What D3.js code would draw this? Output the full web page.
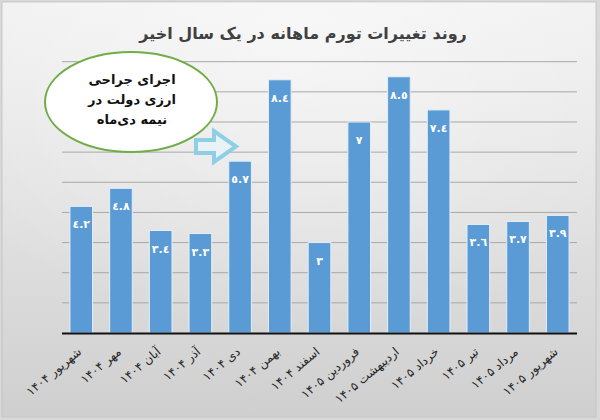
<!DOCTYPE html>
<html><head><meta charset="utf-8">
<script src="https://cdn.jsdelivr.net/npm/d3@7"></script>
<style>html,body{margin:0;padding:0;background:#fff;}svg{display:block;}</style>
</head><body>
<svg id="chart" width="600" height="420"></svg>
<script>
const categories = ["شهریور ۱۴۰۴","مهر ۱۴۰۴","آبان ۱۴۰۴","آذر ۱۴۰۴","دی ۱۴۰۴","بهمن ۱۴۰۴","اسفند ۱۴۰۴","فروردین ۱۴۰۵","اردیبهشت ۱۴۰۵","خرداد ۱۴۰۵","تیر ۱۴۰۵","مرداد ۱۴۰۵","شهریور ۱۴۰۵"];
const values = [4.2, 4.8, 3.4, 3.3, 5.7, 8.4, 3, 7, 8.5, 7.4, 3.6, 3.7, 3.9];
const gridTicks = [1,2,3,4,5,6,7,8,9];
const title = "روند تغییرات تورم ماهانه در یک سال اخیر";
const noteLines = ["اجرای جراحی","ارزی دولت در","نیمه دی‌ماه"];

const svg = d3.select("#chart");
const defs = svg.append("defs");
const g = defs.append("linearGradient").attr("id","bg").attr("x1",0).attr("y1",0).attr("x2",0).attr("y2",1);
g.append("stop").attr("offset","0%").attr("stop-color","#f1f1f1");
g.append("stop").attr("offset","55%").attr("stop-color","#e0e0e0");
g.append("stop").attr("offset","100%").attr("stop-color","#cfcfcf");
const rg = defs.append("radialGradient").attr("id","hl").attr("cx","0.5").attr("cy","0.1").attr("r","0.7");
rg.append("stop").attr("offset","0%").attr("stop-color","#ffffff").attr("stop-opacity",0.5);
rg.append("stop").attr("offset","100%").attr("stop-color","#ffffff").attr("stop-opacity",0);

svg.append("rect").attr("x",0).attr("y",0).attr("width",600).attr("height",420).attr("fill","#d9d9d9");
svg.append("rect").attr("x",2).attr("y",2).attr("width",594).attr("height",415).attr("fill","url(#bg)").attr("stroke","#c4c4c4").attr("stroke-width",1);
svg.append("rect").attr("x",2).attr("y",2).attr("width",594).attr("height",415).attr("fill","url(#hl)");

const x = d3.scaleBand().domain(categories).range([62, 577]).paddingInner(0.43).paddingOuter(0.2);
const y = d3.scaleLinear().domain([0, 9]).range([333, 61.7]);

// gridlines
svg.append("g").selectAll("line").data(gridTicks).join("line")
  .attr("x1",62).attr("x2",577)
  .attr("y1",d=>y(d)).attr("y2",d=>y(d))
  .attr("stroke","#a8a8a8").attr("stroke-width",1);

// bars
svg.append("g").selectAll("rect").data(values).join("rect")
  .attr("x",(d,i)=>x(categories[i]))
  .attr("y",d=>y(d))
  .attr("width",x.bandwidth())
  .attr("height",d=>y(0)-y(d))
  .attr("fill","#5b9bd5")
  .attr("stroke","#e4eef8").attr("stroke-width",1);

// baseline
svg.append("line").attr("x1",62).attr("x2",577).attr("y1",y(0)+0.5).attr("y2",y(0)+0.5)
  .attr("stroke","#111").attr("stroke-width",2);

// value labels (Arabic-Indic digits)
const arab = s => s.replace(/[0-9]/g, c => "٠١٢٣٤٥٦٧٨٩"[+c]);
svg.append("g").selectAll("text").data(values).join("text")
  .attr("x",(d,i)=>x(categories[i])+x.bandwidth()/2)
  .attr("y",d=>y(d)+22)
  .attr("text-anchor","middle")
  .attr("font-family","DejaVu Sans, sans-serif")
  .attr("font-weight","bold").attr("font-size",11).attr("fill","#ffffff")
  .text(d=>arab(String(d)));

// x-axis labels
svg.append("g").selectAll("text").data(categories).join("text")
  .attr("transform",d=>`translate(${x(d)+x.bandwidth()/2+1},${353}) rotate(-40)`)
  .attr("text-anchor","end")
  .attr("font-family","DejaVu Sans, sans-serif")
  .attr("font-size",12).attr("fill","#262626")
  .text(d=>d);

// title
svg.append("text").attr("x",303).attr("y",39).attr("text-anchor","middle")
  .attr("font-family","DejaVu Sans, sans-serif").attr("font-weight","bold")
  .attr("font-size",16).attr("fill","#404040").text(title);

// arrow
const arrowPts = [[196,140],[214,140],[214,131],[236,146.5],[214,162],[214,153],[196,153]];
svg.append("path").attr("d", d3.line()(arrowPts)+"Z")
  .attr("fill","#e9f3f7").attr("stroke","#8fcfe6").attr("stroke-width",4).attr("stroke-linejoin","miter");

// note ellipse
svg.append("ellipse").attr("cx",131).attr("cy",102).attr("rx",86).attr("ry",50)
  .attr("fill","#ffffff").attr("stroke","#70ad47").attr("stroke-width",2);
svg.append("g").selectAll("text").data(noteLines).join("text")
  .attr("x",132).attr("y",(d,i)=>84+i*20)
  .attr("text-anchor","middle")
  .attr("font-family","DejaVu Sans, sans-serif").attr("font-weight","bold")
  .attr("font-size",13).attr("fill","#111").text(d=>d);
</script>
</body></html>
